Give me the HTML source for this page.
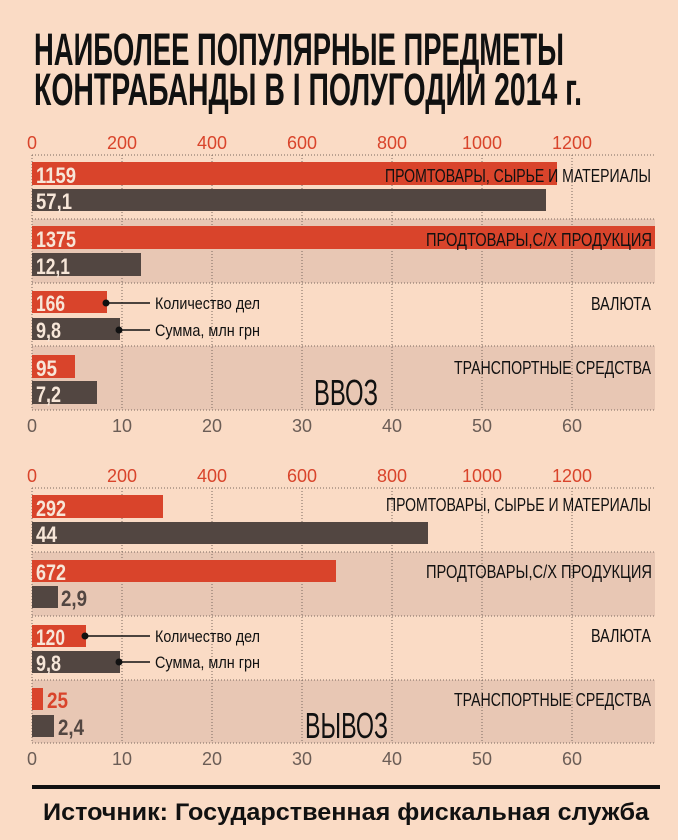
<!DOCTYPE html>
<html><head><meta charset="utf-8"><style>
html,body{margin:0;padding:0;background:#fadbc5;}
svg{display:block;font-family:"Liberation Sans",sans-serif;}
</style></head><body>
<svg width="678" height="840" viewBox="0 0 678 840" xmlns="http://www.w3.org/2000/svg">
<rect width="678" height="840" fill="#fadbc5"/>
<text x="34" y="65" font-size="45" font-weight="bold" fill="#111" textLength="530" lengthAdjust="spacingAndGlyphs">НАИБОЛЕЕ ПОПУЛЯРНЫЕ ПРЕДМЕТЫ</text>
<text x="34" y="105" font-size="45" font-weight="bold" fill="#111" textLength="548" lengthAdjust="spacingAndGlyphs">КОНТРАБАНДЫ В I ПОЛУГОДИИ 2014 г.</text>

<!-- TOP SECTION -->
<g>
<rect x="32" y="219" width="623" height="64" fill="#e8c7b4"/>
<rect x="32" y="346" width="623" height="64" fill="#e8c7b4"/>
<g stroke="#7a6a60" stroke-width="1" stroke-dasharray="1,2">
<line x1="32" y1="155" x2="32" y2="410"/><line x1="122" y1="155" x2="122" y2="410"/><line x1="212" y1="155" x2="212" y2="410"/><line x1="302" y1="155" x2="302" y2="410"/><line x1="392" y1="155" x2="392" y2="410"/><line x1="482" y1="155" x2="482" y2="410"/><line x1="572" y1="155" x2="572" y2="410"/>
<line x1="32" y1="155" x2="655" y2="155"/><line x1="32" y1="219" x2="655" y2="219"/><line x1="32" y1="283" x2="655" y2="283"/><line x1="32" y1="346" x2="655" y2="346"/><line x1="32" y1="410" x2="655" y2="410"/>
</g>
<g font-size="18" fill="#d9442b" text-anchor="middle">
<text x="32" y="149">0</text><text x="122" y="149">200</text><text x="212" y="149">400</text><text x="302" y="149">600</text><text x="392" y="149">800</text><text x="482" y="149">1000</text><text x="572" y="149">1200</text>
</g>
<g font-size="18" fill="#6b5d56" text-anchor="middle">
<text x="32" y="432">0</text><text x="122" y="432">10</text><text x="212" y="432">20</text><text x="302" y="432">30</text><text x="392" y="432">40</text><text x="482" y="432">50</text><text x="572" y="432">60</text>
</g>
<rect x="32" y="162" width="525" height="23" fill="#d9442b"/>
<rect x="32" y="189" width="514" height="22" fill="#524641"/>
<rect x="32" y="226" width="623" height="23" fill="#d9442b"/>
<rect x="32" y="253" width="109" height="23" fill="#524641"/>
<rect x="32" y="291" width="75" height="22" fill="#d9442b"/>
<rect x="32" y="318" width="88" height="22" fill="#524641"/>
<rect x="32" y="355" width="43" height="23" fill="#d9442b"/>
<rect x="32" y="381" width="65" height="23" fill="#524641"/>
<g font-size="22" font-weight="bold" fill="#f7e6d8" lengthAdjust="spacingAndGlyphs">
<text x="36" y="183" textLength="40" lengthAdjust="spacingAndGlyphs">1159</text><text x="36" y="209" textLength="36" lengthAdjust="spacingAndGlyphs">57,1</text>
<text x="36" y="247" textLength="40" lengthAdjust="spacingAndGlyphs">1375</text><text x="36" y="274" textLength="34" lengthAdjust="spacingAndGlyphs">12,1</text>
<text x="36" y="311" textLength="29" lengthAdjust="spacingAndGlyphs">166</text><text x="36" y="338" textLength="25" lengthAdjust="spacingAndGlyphs">9,8</text>
<text x="36" y="376" textLength="21" lengthAdjust="spacingAndGlyphs">95</text><text x="36" y="402" textLength="25" lengthAdjust="spacingAndGlyphs">7,2</text>
</g>
<g font-size="18" fill="#111" text-anchor="end">
<text x="651" y="182" textLength="266" lengthAdjust="spacingAndGlyphs">ПРОМТОВАРЫ, СЫРЬЕ И  МАТЕРИАЛЫ</text>
<text x="652" y="246" textLength="226" lengthAdjust="spacingAndGlyphs">ПРОДТОВАРЫ,С/Х ПРОДУКЦИЯ</text>
<text x="651" y="310" textLength="60" lengthAdjust="spacingAndGlyphs">ВАЛЮТА</text>
<text x="651" y="374" textLength="197" lengthAdjust="spacingAndGlyphs">ТРАНСПОРТНЫЕ СРЕДСТВА</text>
</g>
<text x="314" y="405" font-size="36" fill="#111" textLength="64" lengthAdjust="spacingAndGlyphs">ВВОЗ</text>
<circle cx="106" cy="303" r="3.5" fill="#111"/><line x1="106" y1="303" x2="150" y2="303" stroke="#111" stroke-width="1.5"/>
<circle cx="119" cy="330" r="3.5" fill="#111"/><line x1="119" y1="330" x2="150" y2="330" stroke="#111" stroke-width="1.5"/>
<text x="155" y="309" font-size="17" fill="#111" textLength="105" lengthAdjust="spacingAndGlyphs">Количество дел</text>
<text x="155" y="336" font-size="17" fill="#111" textLength="105" lengthAdjust="spacingAndGlyphs">Сумма, млн грн</text>
</g>

<!-- BOTTOM SECTION -->
<g>
<rect x="32" y="552" width="623" height="64" fill="#e8c7b4"/>
<rect x="32" y="680" width="623" height="63" fill="#e8c7b4"/>
<g stroke="#7a6a60" stroke-width="1" stroke-dasharray="1,2">
<line x1="32" y1="488" x2="32" y2="743"/><line x1="122" y1="488" x2="122" y2="743"/><line x1="212" y1="488" x2="212" y2="743"/><line x1="302" y1="488" x2="302" y2="743"/><line x1="392" y1="488" x2="392" y2="743"/><line x1="482" y1="488" x2="482" y2="743"/><line x1="572" y1="488" x2="572" y2="743"/>
<line x1="32" y1="488" x2="655" y2="488"/><line x1="32" y1="552" x2="655" y2="552"/><line x1="32" y1="616" x2="655" y2="616"/><line x1="32" y1="680" x2="655" y2="680"/><line x1="32" y1="743" x2="655" y2="743"/>
</g>
<g font-size="18" fill="#d9442b" text-anchor="middle">
<text x="32" y="482">0</text><text x="122" y="482">200</text><text x="212" y="482">400</text><text x="302" y="482">600</text><text x="392" y="482">800</text><text x="482" y="482">1000</text><text x="572" y="482">1200</text>
</g>
<g font-size="18" fill="#6b5d56" text-anchor="middle">
<text x="32" y="765">0</text><text x="122" y="765">10</text><text x="212" y="765">20</text><text x="302" y="765">30</text><text x="392" y="765">40</text><text x="482" y="765">50</text><text x="572" y="765">60</text>
</g>
<rect x="32" y="495" width="131" height="23" fill="#d9442b"/>
<rect x="32" y="522" width="396" height="22" fill="#524641"/>
<rect x="32" y="560" width="304" height="22" fill="#d9442b"/>
<rect x="32" y="586" width="26" height="22" fill="#524641"/>
<rect x="32" y="625" width="54" height="22" fill="#d9442b"/>
<rect x="32" y="651" width="88" height="22" fill="#524641"/>
<rect x="32" y="688" width="11" height="22" fill="#d9442b"/>
<rect x="32" y="715" width="22" height="22" fill="#524641"/>
<g font-size="22" font-weight="bold" fill="#f7e6d8">
<text x="36" y="516" textLength="30" lengthAdjust="spacingAndGlyphs">292</text><text x="36" y="542" textLength="21" lengthAdjust="spacingAndGlyphs">44</text>
<text x="36" y="580" textLength="30" lengthAdjust="spacingAndGlyphs">672</text>
<text x="36" y="645" textLength="29" lengthAdjust="spacingAndGlyphs">120</text><text x="36" y="671" textLength="25" lengthAdjust="spacingAndGlyphs">9,8</text>
</g>
<text x="61" y="606" font-size="22" font-weight="bold" fill="#524641" textLength="26" lengthAdjust="spacingAndGlyphs">2,9</text>
<text x="47" y="708" font-size="22" font-weight="bold" fill="#d9442b" textLength="21" lengthAdjust="spacingAndGlyphs">25</text>
<text x="58" y="735" font-size="22" font-weight="bold" fill="#524641" textLength="26" lengthAdjust="spacingAndGlyphs">2,4</text>
<g font-size="18" fill="#111" text-anchor="end">
<text x="651" y="511" textLength="265" lengthAdjust="spacingAndGlyphs">ПРОМТОВАРЫ, СЫРЬЕ И МАТЕРИАЛЫ</text>
<text x="652" y="578" textLength="226" lengthAdjust="spacingAndGlyphs">ПРОДТОВАРЫ,С/Х ПРОДУКЦИЯ</text>
<text x="651" y="642" textLength="60" lengthAdjust="spacingAndGlyphs">ВАЛЮТА</text>
<text x="651" y="706" textLength="197" lengthAdjust="spacingAndGlyphs">ТРАНСПОРТНЫЕ СРЕДСТВА</text>
</g>
<text x="305" y="738" font-size="36" fill="#111" textLength="83" lengthAdjust="spacingAndGlyphs">ВЫВОЗ</text>
<circle cx="85" cy="636" r="3.5" fill="#111"/><line x1="85" y1="636" x2="150" y2="636" stroke="#111" stroke-width="1.5"/>
<circle cx="119" cy="662" r="3.5" fill="#111"/><line x1="119" y1="662" x2="150" y2="662" stroke="#111" stroke-width="1.5"/>
<text x="155" y="642" font-size="17" fill="#111" textLength="105" lengthAdjust="spacingAndGlyphs">Количество дел</text>
<text x="155" y="668" font-size="17" fill="#111" textLength="105" lengthAdjust="spacingAndGlyphs">Сумма, млн грн</text>
</g>

<rect x="32" y="785" width="628" height="4" fill="#111"/>
<text x="43" y="820" font-size="24" font-weight="bold" fill="#111" textLength="606" lengthAdjust="spacingAndGlyphs">Источник: Государственная фискальная служба</text>
</svg>
</body></html>
